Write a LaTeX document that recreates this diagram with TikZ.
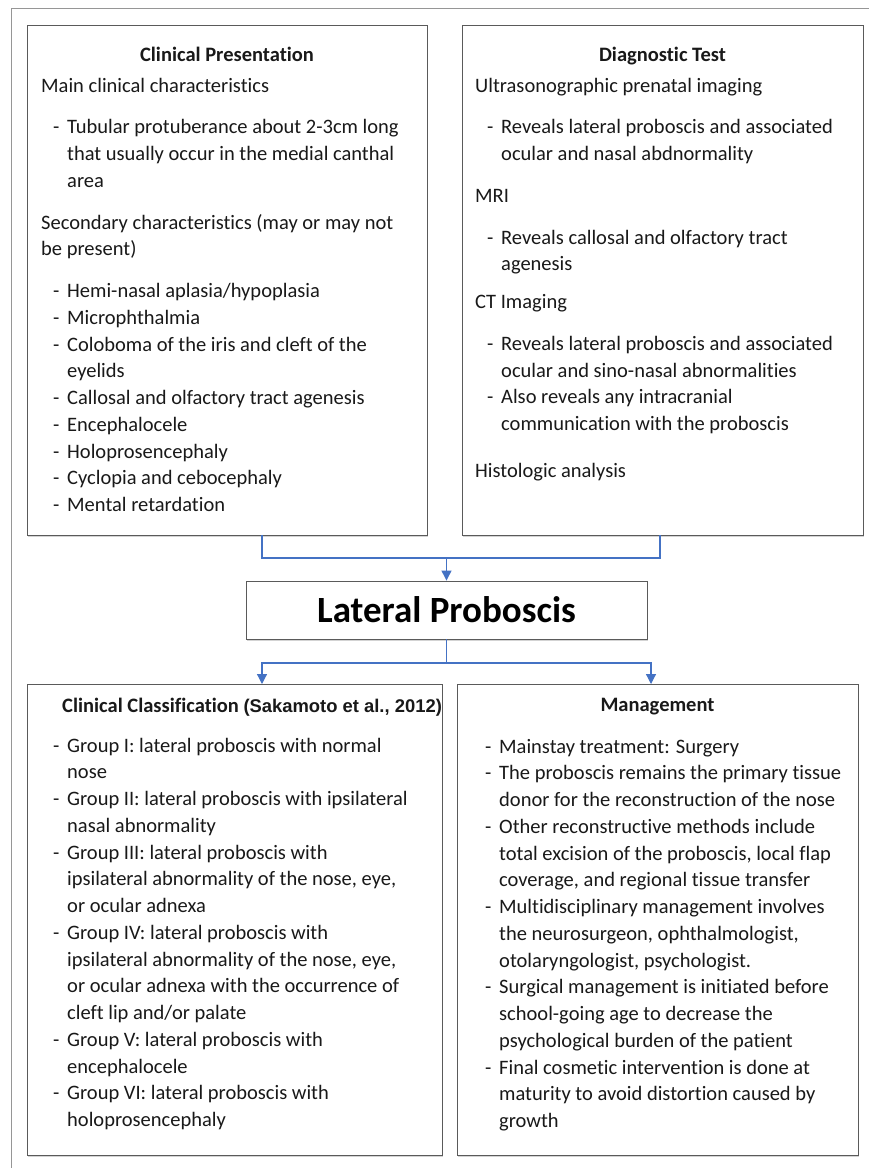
\documentclass[tikz,border=0pt]{standalone}
\usepackage{fontspec}
\setmainfont{Carlito}[Ligatures=NoCommon]
\newfontfamily\arialfont{Liberation Sans}
\usepackage{tikz}
\usetikzlibrary{positioning, arrows.meta, shadows}
\definecolor{linkblue}{RGB}{68,114,196}
\definecolor{edgegray}{RGB}{90,90,90}
\definecolor{framegray}{RGB}{150,150,150}
\definecolor{inkgray}{RGB}{25,25,25}
\tikzstyle{panel}=[draw=edgegray, line width=0.9pt, fill=white, inner sep=0pt, drop shadow={shadow xshift=0.8pt, shadow yshift=-1.6pt, opacity=0.35}]
\tikzstyle{heading}=[inner sep=0pt, anchor=base, text=inkgray, font=\fontsize{20.5}{24}\selectfont\bfseries]
% the base of a multi-line node is the base of its last line
\tikzstyle{body}=[inner sep=0pt, anchor=base west, align=left, text=inkgray, font=\fontsize{20.5}{26.75}\selectfont]
\tikzstyle{link}=[draw=linkblue, line width=1.2pt]
\tikzset{>={Triangle[width=10pt,length=10pt]}}
\newcommand{\dashitem}{\hspace*{12pt}\makebox[14pt][l]{-}}
\newcommand{\contline}{\hspace*{26pt}}

\begin{document}
\begin{tikzpicture}[x=1pt, y=-1pt]
\useasboundingbox (0,0) rectangle (869,1168);
\draw[framegray, line width=1pt] (11,1168) -- (11,8) -- (869,8);
%
\node[panel, minimum width=400pt, minimum height=510pt] (cp) at (227,280) {};
\node[panel, minimum width=401pt, minimum height=510pt] (dt) at (662.5,280) {};
\node[panel, minimum width=401pt, minimum height=58pt, text=black, font=\fontsize{37}{40}\selectfont\bfseries] (lp) at (446.5,610) {Lateral Proboscis};
\node[panel, minimum width=415pt, minimum height=471pt] (cc) at (234.5,919.5) {};
\node[panel, minimum width=401pt, minimum height=471pt] (mg) at (657.5,919.5) {};
%
\node[heading] (cpT) at (227,61) {Clinical Presentation};
\node[heading] (dtT) at (662.5,61) {Diagnostic Test};
\node[heading, anchor=base west] (ccT) at (62,712) {Clinical Classification {\arialfont\fontsize{18.4}{22}\selectfont(Sakamoto et al., 2012)}};
\node[heading] (mgT) at (657.5,711) {Management};
%
\node[body] (cpB) at (41,511.5) {Main clinical characteristics\\[15pt]
\dashitem Tubular protuberance about 2-3cm long\\
\contline that usually occur in the medial canthal\\
\contline area\\[15pt]
Secondary characteristics (may or may not\\
be present)\\[15pt]
\dashitem Hemi-nasal aplasia/hypoplasia\\
\dashitem Microphthalmia\\
\dashitem Coloboma of the iris and cleft of the\\
\contline eyelids\\
\dashitem Callosal and olfactory tract agenesis\\
\dashitem Encephalocele\\
\dashitem Holoprosencephaly\\
\dashitem Cyclopia and cebocephaly\\
\dashitem Mental retardation};
\node[body] (dtB) at (475,477.25) {Ultrasonographic prenatal imaging\\[15pt]
\dashitem Reveals lateral proboscis and associated\\
\contline ocular and nasal abdnormality\\[15pt]
MRI\\[15pt]
\dashitem Reveals callosal and olfactory tract\\
\contline agenesis\\[11pt]
CT Imaging\\[15pt]
\dashitem Reveals lateral proboscis and associated\\
\contline ocular and sino-nasal abnormalities\\
\dashitem Also reveals any intracranial\\
\contline communication with the proboscis\\[20pt]
Histologic analysis};
\node[body] (ccB) at (41,1126.5) {\dashitem Group I: lateral proboscis with normal\\
\contline nose\\
\dashitem Group II: lateral proboscis with ipsilateral\\
\contline nasal abnormality\\
\dashitem Group III: lateral proboscis with\\
\contline ipsilateral abnormality of the nose, eye,\\
\contline or ocular adnexa\\
\dashitem Group IV: lateral proboscis with\\
\contline ipsilateral abnormality of the nose, eye,\\
\contline or ocular adnexa with the occurrence of\\
\contline cleft lip and/or palate\\
\dashitem Group V: lateral proboscis with\\
\contline encephalocele\\
\dashitem Group VI: lateral proboscis with\\
\contline holoprosencephaly};
\node[body] (mgB) at (473,1127.5) {\dashitem Mainstay treatment: Surgery\\
\dashitem The proboscis remains the primary tissue\\
\contline donor for the reconstruction of the nose\\
\dashitem Other reconstructive methods include\\
\contline total excision of the proboscis, local flap\\
\contline coverage, and regional tissue transfer\\
\dashitem Multidisciplinary management involves\\
\contline the neurosurgeon, ophthalmologist,\\
\contline otolaryngologist, psychologist.\\
\dashitem Surgical management is initiated before\\
\contline school-going age to decrease the\\
\contline psychological burden of the patient\\
\dashitem Final cosmetic intervention is done at\\
\contline maturity to avoid distortion caused by\\
\contline growth};
%
\coordinate (cpfoot) at (262,535);
\coordinate (dtfoot) at (660,535);
\coordinate (merge) at (446.5,558);
\coordinate (split) at (446.5,663);
\coordinate (ccin) at (262,684);
\coordinate (mgin) at (651,684);
\draw[link] (cpfoot) |- (merge) -| (dtfoot);
\draw[link, ->] (merge) -- (lp.north);
\draw[link] (lp.south) -- (split);
\draw[link, ->] (split) -| (ccin);
\draw[link, ->] (split) -| (mgin);
\end{tikzpicture}
\end{document}
